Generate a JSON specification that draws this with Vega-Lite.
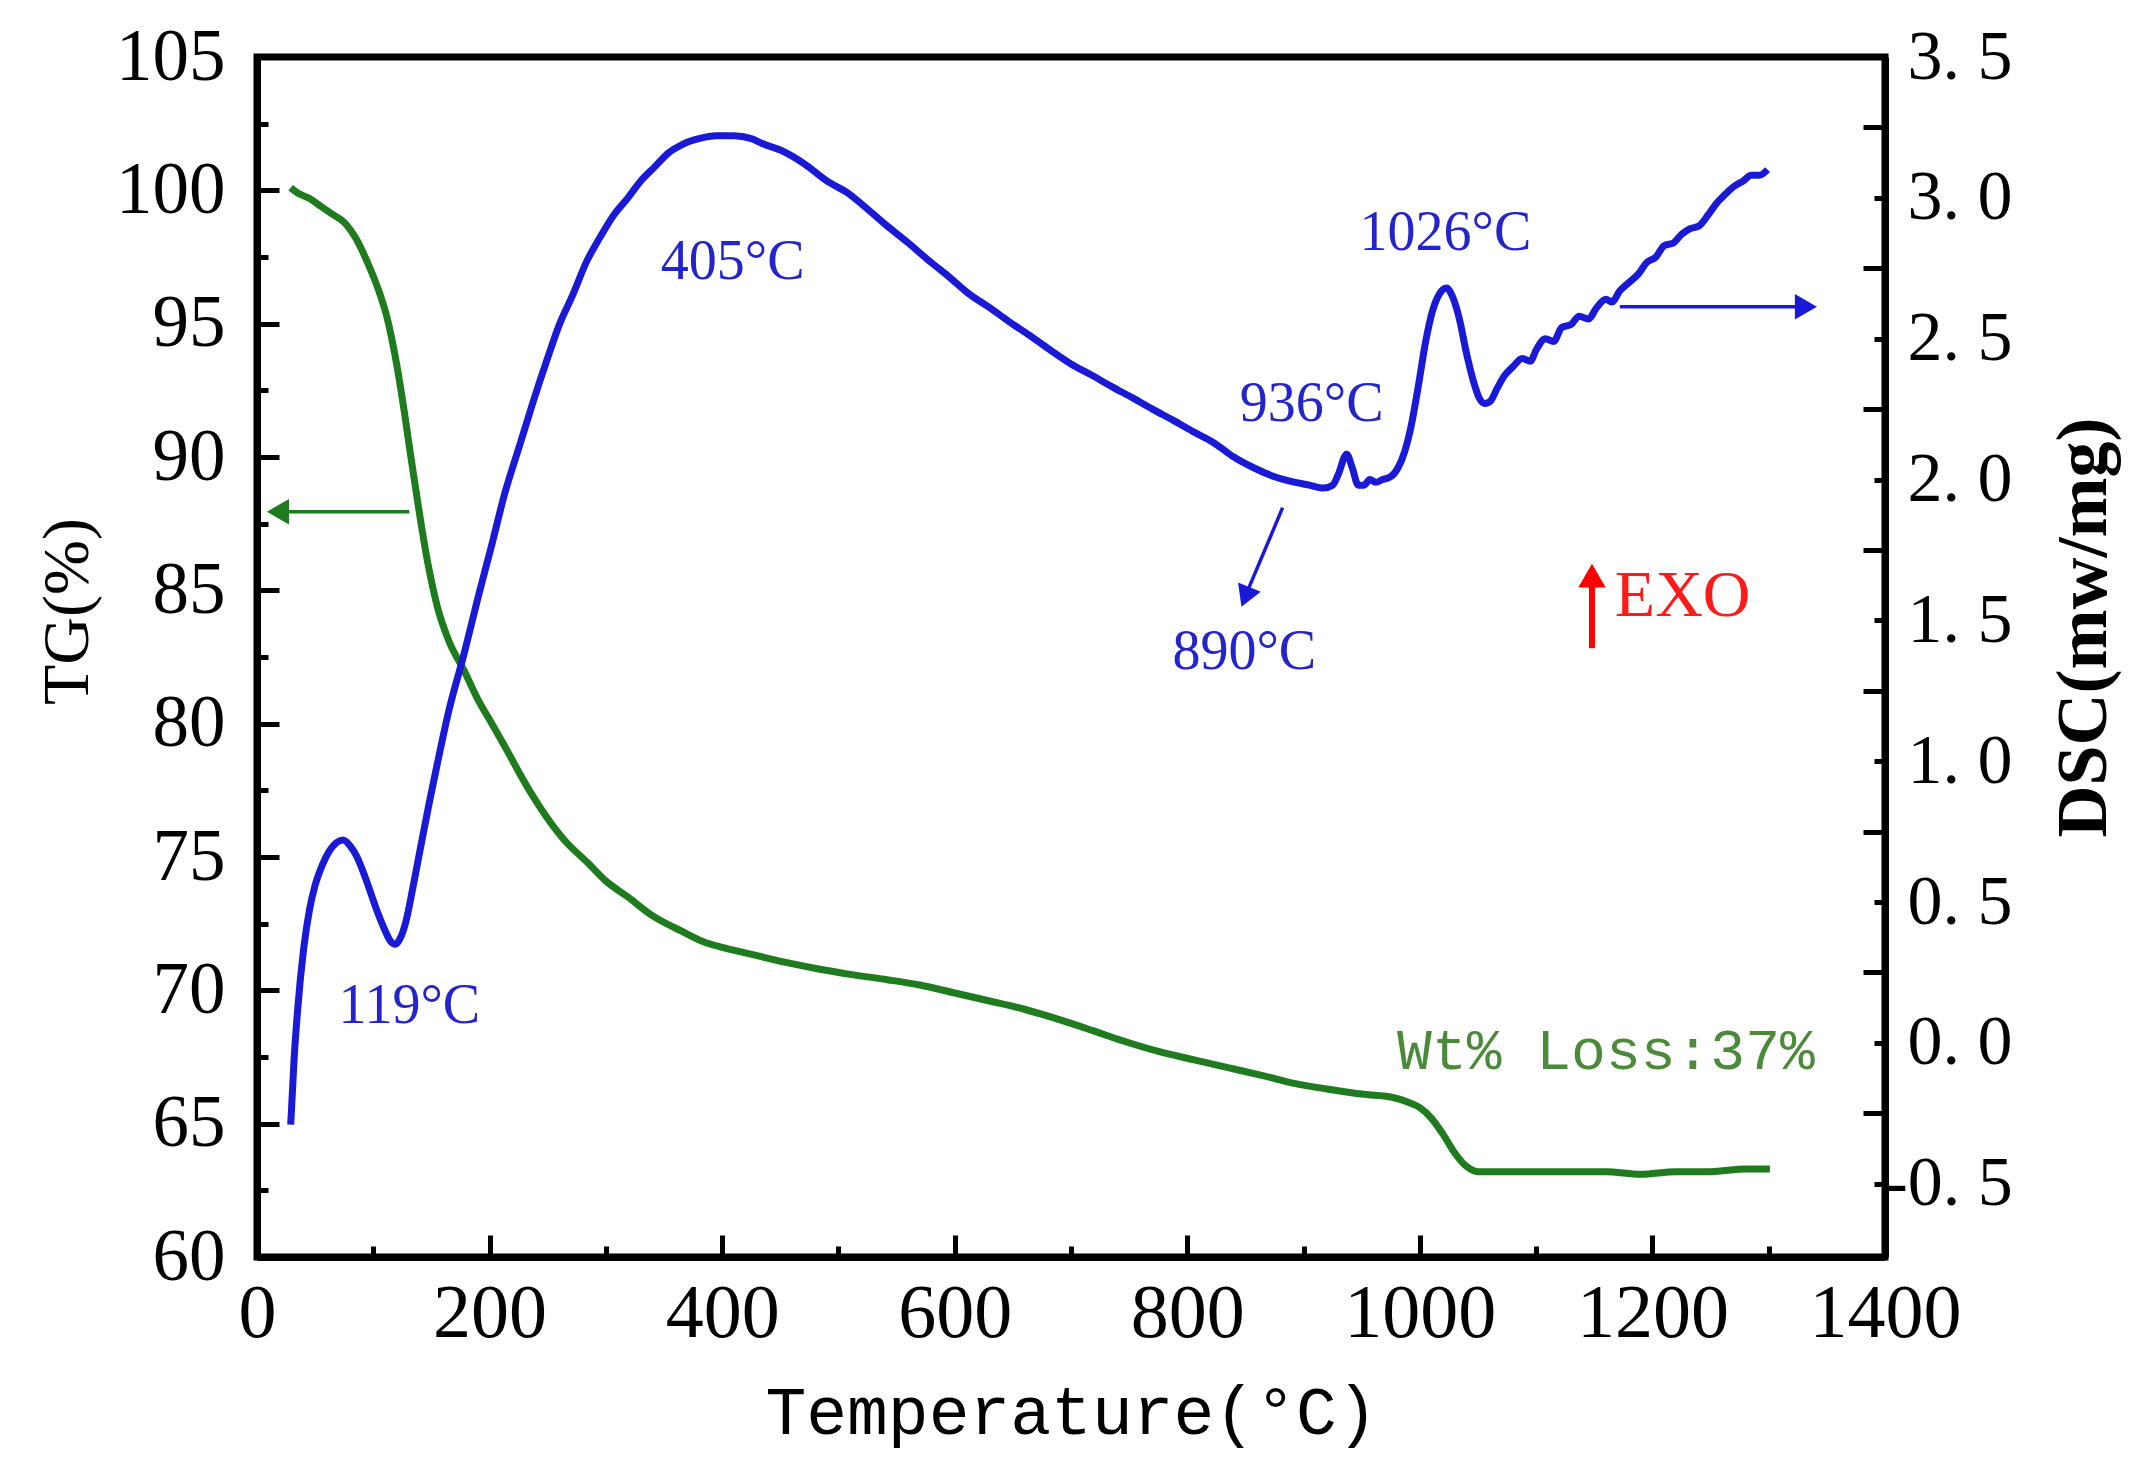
{
  "$schema": "https://vega.github.io/schema/vega-lite/v6.json",
  "width": 1628,
  "height": 1200,
  "autosize": {"type": "none"},
  "padding": {"left": 257, "top": 57, "right": 254, "bottom": 216},
  "background": "white",
  "config": {
    "view": {"stroke": "black", "strokeWidth": 7},
    "axis": {
      "grid": false,
      "domainColor": "black",
      "domainWidth": 7,
      "tickColor": "black",
      "tickWidth": 5,
      "labelColor": "black",
      "titleColor": "black",
      "labelFont": "Liberation Serif",
      "titleFont": "Liberation Serif",
      "titleFontWeight": "normal",
      "labelFlush": false,
      "labelOverlap": false
    }
  },
  "datasets": {
    "tg": [
      {"t": 29, "tg": 100.1}, {"t": 35, "tg": 99.9}, {"t": 45, "tg": 99.7}, {"t": 55, "tg": 99.4},
      {"t": 65, "tg": 99.1}, {"t": 75, "tg": 98.8}, {"t": 85, "tg": 98.2}, {"t": 95, "tg": 97.3},
      {"t": 105, "tg": 96.2}, {"t": 112, "tg": 95.2}, {"t": 120, "tg": 93.5}, {"t": 127, "tg": 91.6},
      {"t": 133, "tg": 89.8}, {"t": 140, "tg": 87.8}, {"t": 147, "tg": 86.0}, {"t": 155, "tg": 84.4},
      {"t": 165, "tg": 83.1}, {"t": 178, "tg": 82.0}, {"t": 190, "tg": 80.9}, {"t": 202, "tg": 80.0},
      {"t": 215, "tg": 79.0}, {"t": 225, "tg": 78.2}, {"t": 237, "tg": 77.3}, {"t": 249, "tg": 76.5},
      {"t": 265, "tg": 75.6}, {"t": 284, "tg": 74.8}, {"t": 300, "tg": 74.1}, {"t": 319, "tg": 73.5},
      {"t": 340, "tg": 72.8}, {"t": 366, "tg": 72.2}, {"t": 385, "tg": 71.8}, {"t": 401, "tg": 71.6},
      {"t": 430, "tg": 71.3}, {"t": 460, "tg": 71.0}, {"t": 483, "tg": 70.8}, {"t": 510, "tg": 70.6},
      {"t": 542, "tg": 70.4}, {"t": 570, "tg": 70.2}, {"t": 600, "tg": 69.9}, {"t": 630, "tg": 69.6},
      {"t": 659, "tg": 69.3}, {"t": 690, "tg": 68.9}, {"t": 718, "tg": 68.5}, {"t": 745, "tg": 68.1},
      {"t": 776, "tg": 67.7}, {"t": 805, "tg": 67.4}, {"t": 835, "tg": 67.1}, {"t": 865, "tg": 66.8},
      {"t": 893, "tg": 66.5}, {"t": 920, "tg": 66.3}, {"t": 952, "tg": 66.1}, {"t": 975, "tg": 66.0},
      {"t": 990, "tg": 65.8}, {"t": 1000, "tg": 65.6}, {"t": 1010, "tg": 65.2}, {"t": 1020, "tg": 64.6},
      {"t": 1030, "tg": 63.9}, {"t": 1040, "tg": 63.4}, {"t": 1050, "tg": 63.2}, {"t": 1070, "tg": 63.2},
      {"t": 1100, "tg": 63.2}, {"t": 1130, "tg": 63.2}, {"t": 1160, "tg": 63.2}, {"t": 1190, "tg": 63.1},
      {"t": 1220, "tg": 63.2}, {"t": 1250, "tg": 63.2}, {"t": 1280, "tg": 63.3}, {"t": 1301, "tg": 63.3}
    ],
    "dsc": [
      {"t": 29, "dsc": -0.29}, {"t": 32, "dsc": -0.05}, {"t": 35, "dsc": 0.12}, {"t": 40, "dsc": 0.33},
      {"t": 45, "dsc": 0.47}, {"t": 50, "dsc": 0.56}, {"t": 56, "dsc": 0.63}, {"t": 62, "dsc": 0.68},
      {"t": 68, "dsc": 0.71}, {"t": 74, "dsc": 0.72}, {"t": 80, "dsc": 0.70}, {"t": 86, "dsc": 0.66},
      {"t": 92, "dsc": 0.60}, {"t": 98, "dsc": 0.53}, {"t": 104, "dsc": 0.46}, {"t": 110, "dsc": 0.40},
      {"t": 115, "dsc": 0.36}, {"t": 119, "dsc": 0.35}, {"t": 123, "dsc": 0.37}, {"t": 128, "dsc": 0.43},
      {"t": 134, "dsc": 0.55}, {"t": 140, "dsc": 0.68}, {"t": 148, "dsc": 0.85}, {"t": 155, "dsc": 0.99},
      {"t": 165, "dsc": 1.18}, {"t": 178, "dsc": 1.38}, {"t": 190, "dsc": 1.58}, {"t": 202, "dsc": 1.77},
      {"t": 213, "dsc": 1.95}, {"t": 225, "dsc": 2.11}, {"t": 237, "dsc": 2.27}, {"t": 249, "dsc": 2.42},
      {"t": 260, "dsc": 2.55}, {"t": 272, "dsc": 2.66}, {"t": 283, "dsc": 2.77}, {"t": 295, "dsc": 2.86},
      {"t": 307, "dsc": 2.94}, {"t": 319, "dsc": 3.00}, {"t": 330, "dsc": 3.06}, {"t": 342, "dsc": 3.11},
      {"t": 354, "dsc": 3.16}, {"t": 366, "dsc": 3.19}, {"t": 380, "dsc": 3.21}, {"t": 395, "dsc": 3.22},
      {"t": 410, "dsc": 3.22}, {"t": 425, "dsc": 3.21}, {"t": 436, "dsc": 3.19}, {"t": 450, "dsc": 3.17},
      {"t": 471, "dsc": 3.12}, {"t": 490, "dsc": 3.06}, {"t": 507, "dsc": 3.02}, {"t": 525, "dsc": 2.96},
      {"t": 542, "dsc": 2.90}, {"t": 560, "dsc": 2.84}, {"t": 577, "dsc": 2.78}, {"t": 595, "dsc": 2.72},
      {"t": 612, "dsc": 2.66}, {"t": 630, "dsc": 2.61}, {"t": 647, "dsc": 2.56}, {"t": 665, "dsc": 2.51},
      {"t": 682, "dsc": 2.46}, {"t": 700, "dsc": 2.41}, {"t": 718, "dsc": 2.37}, {"t": 735, "dsc": 2.33},
      {"t": 753, "dsc": 2.29}, {"t": 770, "dsc": 2.25}, {"t": 788, "dsc": 2.21}, {"t": 805, "dsc": 2.17},
      {"t": 823, "dsc": 2.13}, {"t": 840, "dsc": 2.08}, {"t": 858, "dsc": 2.04}, {"t": 875, "dsc": 2.01},
      {"t": 893, "dsc": 1.99}, {"t": 905, "dsc": 1.98}, {"t": 917, "dsc": 1.97}, {"t": 925, "dsc": 1.98},
      {"t": 930, "dsc": 2.02}, {"t": 937, "dsc": 2.09}, {"t": 942, "dsc": 2.04}, {"t": 947, "dsc": 1.98},
      {"t": 952, "dsc": 1.98}, {"t": 957, "dsc": 2.00}, {"t": 962, "dsc": 1.99}, {"t": 968, "dsc": 2.00},
      {"t": 975, "dsc": 2.01}, {"t": 981, "dsc": 2.04}, {"t": 987, "dsc": 2.10}, {"t": 993, "dsc": 2.20},
      {"t": 999, "dsc": 2.34}, {"t": 1005, "dsc": 2.49}, {"t": 1011, "dsc": 2.60}, {"t": 1017, "dsc": 2.66},
      {"t": 1023, "dsc": 2.68}, {"t": 1028, "dsc": 2.65}, {"t": 1034, "dsc": 2.57}, {"t": 1040, "dsc": 2.45},
      {"t": 1046, "dsc": 2.35}, {"t": 1051, "dsc": 2.29}, {"t": 1056, "dsc": 2.27}, {"t": 1061, "dsc": 2.28},
      {"t": 1066, "dsc": 2.32}, {"t": 1073, "dsc": 2.37}, {"t": 1080, "dsc": 2.40}, {"t": 1088, "dsc": 2.43},
      {"t": 1095, "dsc": 2.42}, {"t": 1100, "dsc": 2.46}, {"t": 1108, "dsc": 2.50}, {"t": 1115, "dsc": 2.49},
      {"t": 1122, "dsc": 2.54}, {"t": 1130, "dsc": 2.55}, {"t": 1137, "dsc": 2.58}, {"t": 1145, "dsc": 2.57},
      {"t": 1152, "dsc": 2.61}, {"t": 1160, "dsc": 2.64}, {"t": 1165, "dsc": 2.63}, {"t": 1172, "dsc": 2.67},
      {"t": 1180, "dsc": 2.70}, {"t": 1188, "dsc": 2.73}, {"t": 1195, "dsc": 2.77}, {"t": 1203, "dsc": 2.79},
      {"t": 1210, "dsc": 2.83}, {"t": 1218, "dsc": 2.84}, {"t": 1225, "dsc": 2.87}, {"t": 1232, "dsc": 2.89},
      {"t": 1240, "dsc": 2.90}, {"t": 1248, "dsc": 2.94}, {"t": 1255, "dsc": 2.98}, {"t": 1262, "dsc": 3.01},
      {"t": 1270, "dsc": 3.04}, {"t": 1278, "dsc": 3.06}, {"t": 1285, "dsc": 3.08}, {"t": 1292, "dsc": 3.08},
      {"t": 1299, "dsc": 3.10}
    ],
    "peaks": [
      {"t": 131, "tg": 69.4, "label": "119°C"},
      {"t": 409, "tg": 97.3, "label": "405°C"},
      {"t": 907, "tg": 92.0, "label": "936°C"},
      {"t": 1022, "tg": 98.4, "label": "1026°C"},
      {"t": 849, "tg": 82.7, "label": "890°C"}
    ],
    "arrows": [
      {"name": "tg", "t1": 131, "t2": 22, "tg": 87.95, "tg2": 87.95},
      {"name": "dsc", "t1": 1172, "t2": 1325, "tg": 95.63, "tg2": 95.63},
      {"name": "p890", "t1": 882, "t2": 853, "tg": 88.1, "tg2": 85.1},
      {"name": "exo", "t1": 1148, "t2": 1148, "tg": 82.83, "tg2": 85.4}
    ],
    "heads": [
      {"name": "tg", "t": 18, "tg": 87.95},
      {"name": "dsc", "t": 1332, "tg": 95.63},
      {"name": "p890", "t": 850, "tg": 84.75},
      {"name": "exo", "t": 1148, "tg": 85.55}
    ]
  },
  "resolve": {"scale": {"y": "independent"}},
  "layer": [
    {
      "layer": [
        {
          "data": {"name": "tg"},
          "mark": {"type": "line", "color": "#1e7b1e", "strokeWidth": 7, "interpolate": "monotone"},
          "encoding": {
            "x": {
              "field": "t",
              "type": "quantitative",
              "scale": {"domain": [0, 1400], "nice": false, "zero": false},
              "axis": {
                "title": "Temperature(°C)",
                "titleFont": "Liberation Mono",
                "titleFontSize": 68,
                "titlePadding": 17,
                "values": [0, 100, 200, 300, 400, 500, 600, 700, 800, 900, 1000, 1100, 1200, 1300, 1400],
                "format": "d",
                "labelExpr": "datum.value % 200 === 0 ? datum.label : ''",
                "labelFontSize": 76,
                "labelPadding": 41,
                "tickSize": {"condition": {"test": "datum.value % 200 === 0", "value": -22}, "value": -11}
              }
            },
            "y": {
              "field": "tg",
              "type": "quantitative",
              "scale": {"domain": [60, 105], "nice": false, "zero": false},
              "axis": {
                "orient": "left",
                "title": "TG(%)",
                "titleFontSize": 66,
                "titlePadding": 14,
                "titleY": 554,
                "values": [60, 62.5, 65, 67.5, 70, 72.5, 75, 77.5, 80, 82.5, 85, 87.5, 90, 92.5, 95, 97.5, 100, 102.5, 105],
                "labelExpr": "datum.value % 5 === 0 ? datum.label : ''",
                "labelFontSize": 73,
                "labelPadding": 54,
                "tickSize": {"condition": {"test": "datum.value % 5 === 0", "value": -22}, "value": -11}
              }
            }
          }
        },
        {
          "data": {"name": "arrows"},
          "transform": [{"filter": "datum.name === 'tg'"}],
          "mark": {"type": "rule", "color": "#1e7b1e", "strokeWidth": 3.5},
          "encoding": {
            "x": {"field": "t1", "type": "quantitative", "title": "Temperature(°C)"},
            "x2": {"field": "t2"},
            "y": {"field": "tg", "type": "quantitative", "title": "TG(%)"},
            "y2": {"field": "tg2"}
          }
        },
        {
          "data": {"name": "arrows"},
          "transform": [{"filter": "datum.name === 'dsc' || datum.name === 'p890'"}],
          "mark": {"type": "rule", "color": "#1a1ad6", "strokeWidth": 3.5},
          "encoding": {
            "x": {"field": "t1", "type": "quantitative", "title": "Temperature(°C)"},
            "x2": {"field": "t2"},
            "y": {"field": "tg", "type": "quantitative", "title": "TG(%)"},
            "y2": {"field": "tg2"}
          }
        },
        {
          "data": {"name": "arrows"},
          "transform": [{"filter": "datum.name === 'exo'"}],
          "mark": {"type": "rule", "color": "#ff0000", "strokeWidth": 6},
          "encoding": {
            "x": {"field": "t1", "type": "quantitative", "title": "Temperature(°C)"},
            "x2": {"field": "t2"},
            "y": {"field": "tg", "type": "quantitative", "title": "TG(%)"},
            "y2": {"field": "tg2"}
          }
        },
        {
          "data": {"name": "heads"},
          "transform": [{"filter": "datum.name === 'tg'"}],
          "mark": {"type": "point", "shape": "triangle-left", "filled": true, "opacity": 1, "color": "#1e7b1e", "size": 650},
          "encoding": {
            "x": {"field": "t", "type": "quantitative", "title": "Temperature(°C)"},
            "y": {"field": "tg", "type": "quantitative", "title": "TG(%)"}
          }
        },
        {
          "data": {"name": "heads"},
          "transform": [{"filter": "datum.name === 'dsc'"}],
          "mark": {"type": "point", "shape": "triangle-right", "filled": true, "opacity": 1, "color": "#1a1ad6", "size": 650},
          "encoding": {
            "x": {"field": "t", "type": "quantitative", "title": "Temperature(°C)"},
            "y": {"field": "tg", "type": "quantitative", "title": "TG(%)"}
          }
        },
        {
          "data": {"name": "heads"},
          "transform": [{"filter": "datum.name === 'p890'"}],
          "mark": {"type": "point", "shape": "triangle-down", "angle": 22, "filled": true, "opacity": 1, "color": "#1a1ad6", "size": 600},
          "encoding": {
            "x": {"field": "t", "type": "quantitative", "title": "Temperature(°C)"},
            "y": {"field": "tg", "type": "quantitative", "title": "TG(%)"}
          }
        },
        {
          "data": {"name": "heads"},
          "transform": [{"filter": "datum.name === 'exo'"}],
          "mark": {"type": "point", "shape": "triangle-up", "filled": true, "opacity": 1, "color": "#ff0000", "size": 750},
          "encoding": {
            "x": {"field": "t", "type": "quantitative", "title": "Temperature(°C)"},
            "y": {"field": "tg", "type": "quantitative", "title": "TG(%)"}
          }
        },
        {
          "data": {"name": "peaks"},
          "mark": {"type": "text", "font": "Liberation Serif", "fontSize": 56, "color": "#2424cc", "align": "center", "baseline": "middle"},
          "encoding": {
            "x": {"field": "t", "type": "quantitative", "title": "Temperature(°C)"},
            "y": {"field": "tg", "type": "quantitative", "title": "TG(%)"},
            "text": {"field": "label"}
          }
        },
        {
          "data": {"values": [{"t": 1226, "tg": 84.8, "label": "EXO"}]},
          "mark": {"type": "text", "font": "Liberation Serif", "fontSize": 66, "color": "#ff1a1a", "align": "center", "baseline": "middle"},
          "encoding": {
            "x": {"field": "t", "type": "quantitative", "title": "Temperature(°C)"},
            "y": {"field": "tg", "type": "quantitative", "title": "TG(%)"},
            "text": {"field": "label"}
          }
        },
        {
          "data": {"values": [{"t": 1160, "tg": 67.7, "label": "Wt% Loss:37%"}]},
          "mark": {"type": "text", "font": "Liberation Mono", "fontSize": 58, "color": "#4a8a3a", "align": "center", "baseline": "middle"},
          "encoding": {
            "x": {"field": "t", "type": "quantitative", "title": "Temperature(°C)"},
            "y": {"field": "tg", "type": "quantitative", "title": "TG(%)"},
            "text": {"field": "label"}
          }
        }
      ]
    },
    {
      "data": {"name": "dsc"},
      "mark": {"type": "line", "color": "#1a1ad6", "strokeWidth": 7, "interpolate": "monotone"},
      "encoding": {
        "x": {"field": "t", "type": "quantitative", "title": "Temperature(°C)"},
        "y": {
          "field": "dsc",
          "type": "quantitative",
          "scale": {"domain": [-0.76, 3.5], "nice": false, "zero": false},
          "axis": {
            "orient": "right",
            "title": "DSC(mw/mg)",
            "titleFontSize": 72,
            "titleFontWeight": "bold",
            "titleAngle": 270,
            "titleBaseline": "top",
            "titlePadding": 36,
            "titleY": 570,
            "values": [-0.5, -0.25, 0, 0.25, 0.5, 0.75, 1, 1.25, 1.5, 1.75, 2, 2.25, 2.5, 2.75, 3, 3.25, 3.5],
            "labelExpr": "abs(datum.value * 2 - round(datum.value * 2)) > 0.01 ? '' : (datum.value < 0 ? '-' : '') + replace(format(abs(datum.value), '.1f'), '.', '. ')",
            "labelFontSize": 70,
            "labelAlign": "left",
            "labelPadding": {"condition": {"test": "datum.value < 0", "value": 10}, "value": 33},
            "tickSize": {"condition": {"test": "abs(datum.value * 2 - round(datum.value * 2)) < 0.01", "value": -11}, "value": -22}
          }
        }
      }
    }
  ]
}
